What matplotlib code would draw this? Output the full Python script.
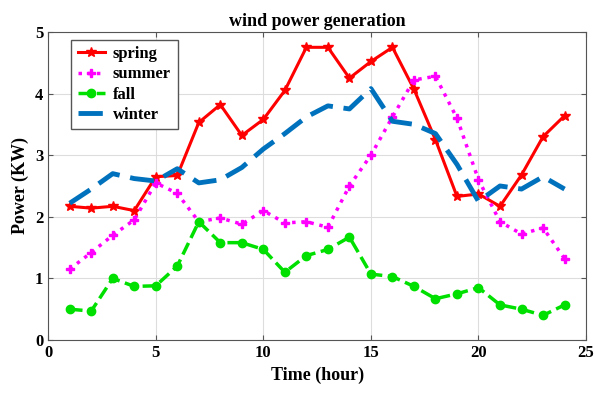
import matplotlib.pyplot as plt

hours = list(range(1, 25))
spring = [2.17, 2.14, 2.17, 2.10, 2.65, 2.67, 3.53, 3.82, 3.32, 3.58, 4.05, 4.75,
          4.75, 4.25, 4.52, 4.75, 4.07, 3.25, 2.33, 2.37, 2.17, 2.68, 3.30, 3.64]
summer = [1.15, 1.42, 1.70, 1.95, 2.55, 2.38, 1.92, 1.98, 1.88, 2.10, 1.90, 1.92,
          1.83, 2.50, 3.00, 3.62, 4.22, 4.28, 3.60, 2.60, 1.92, 1.72, 1.82, 1.32]
fall = [0.50, 0.47, 1.00, 0.87, 0.88, 1.20, 1.92, 1.58, 1.58, 1.47, 1.10, 1.37,
        1.47, 1.67, 1.07, 1.03, 0.87, 0.67, 0.75, 0.85, 0.57, 0.50, 0.40, 0.57]
winter = [2.22, 2.45, 2.70, 2.62, 2.58, 2.78, 2.55, 2.60, 2.80, 3.10, 3.35, 3.62,
          3.80, 3.75, 4.08, 3.55, 3.50, 3.35, 2.85, 2.25, 2.50, 2.45, 2.65, 2.45]

plt.rcParams['font.family'] = ['Liberation Serif', 'DejaVu Serif']
plt.rcParams['font.weight'] = 'bold'

fig = plt.figure(figsize=(5.95, 3.94), dpi=100)
ax = fig.add_axes([0.081, 0.137, 0.904, 0.782])

ax.plot(hours, spring, '-', color='red', lw=2.2, marker='*', ms=7, label='spring')
ax.plot(hours, summer, ':', color='magenta', lw=2.5, marker='P', ms=6, label='summer')
ax.plot(hours, fall, '--', color='#00e000', lw=2.5, marker='o', ms=6, label='fall')
ax.plot(hours, winter, '--', color='#0072bd', lw=3.5, dashes=(5, 2.2), label='winter')

ax.set_xlim(0, 25)
ax.set_ylim(0, 5)
ax.set_xticks([0, 5, 10, 15, 20, 25])
ax.set_yticks([0, 1, 2, 3, 4, 5])
ax.grid(True, color='#dddddd', lw=0.8)
ax.tick_params(direction='in', top=True, right=True, labelsize=12, color='#555555')
for s in ax.spines.values():
    s.set_color('#555555')
ax.set_xlabel('Time (hour)', fontsize=13, fontweight='bold')
ax.set_ylabel('Power (KW)', fontsize=13, fontweight='bold')
ax.set_title('wind power generation', fontsize=13, fontweight='bold', pad=4)
leg = ax.legend(loc='upper left', bbox_to_anchor=(0.043, 0.975), fontsize=12,
                fancybox=False, edgecolor='#555555', framealpha=1,
                handlelength=1.6, handletextpad=0.5, borderpad=0.4,
                labelspacing=0.25, borderaxespad=0)

fig.savefig('out.png', dpi=100)
